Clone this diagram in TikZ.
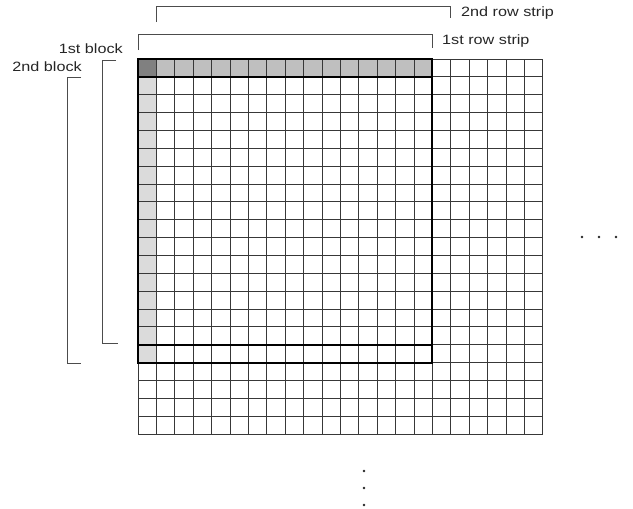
\documentclass[tikz,border=0pt]{standalone}
\usepackage{fontspec}
\setmainfont{Liberation Sans}[FakeStretch=1.2]
\usetikzlibrary{positioning}

\begin{document}
\begin{tikzpicture}[
  x=1pt, y=-1pt,
  font=\fontsize{13.5}{15}\selectfont,
  cell/.style={draw=black!78, line width=0.85pt},
  blockline/.style={draw=black, line width=2pt},
  bracket/.style={draw=black!70, line width=0.8pt},
  lbl/.style={inner sep=0pt, text=black!85},
  dot/.style={fill=black!85},
]
  \useasboundingbox (0,0) rectangle (633,509);

  % Matrix of cells, in cell units
  \begin{scope}[shift={(138pt,-59pt)}, x=18.4pt, y=-17.86pt]
    \fill[black!50] (0,0) rectangle (1,1);
    \fill[black!25] (1,0) rectangle (16,1);
    \fill[black!14] (0,1) rectangle (1,17);
    \foreach \i in {0,...,22} \draw[cell] (\i,0) -- (\i,21);
    \foreach \j in {0,...,21} \draw[cell] (0,\j) -- (22,\j);
    % 1st and 2nd block outlines
    \draw[blockline] (0,0) rectangle (16,16);
    \draw[blockline] (0,1) rectangle (16,17);
  \end{scope}

  % Row strip brackets
  \coordinate (strip1l) at (138,34);
  \coordinate (strip1r) at (432,34);
  \draw[bracket] (138,50) -- (strip1l) -- (strip1r) -- (432,48);
  \node[lbl, anchor=west] (strip1) at (442,41) {1st row strip};

  \coordinate (strip2l) at (156.4,6);
  \coordinate (strip2r) at (450.4,6);
  \draw[bracket] (156.4,22) -- (strip2l) -- (strip2r) -- (450.4,18);
  \node[lbl, anchor=west] (strip2) at (461,13) {2nd row strip};

  % Block brackets on the left
  \coordinate (block1t) at (102,60);
  \coordinate (block1b) at (102,343);
  \draw[bracket] (116,60) -- (block1t) -- (block1b) -- (118,343);
  \node[lbl, anchor=east] (block1) at (123,49) {1st block};

  \coordinate (block2t) at (67,77);
  \coordinate (block2b) at (67,363);
  \draw[bracket] (81,77) -- (block2t) -- (block2b) -- (81,363);
  \node[lbl, anchor=east] (block2) at (82,67) {2nd block};

  % Continuation dots
  \foreach \x in {582,599,616} \fill[dot] (\x,237) circle (1.3pt);
  \foreach \y in {471,488,505} \fill[dot] (364,\y) circle (1.3pt);
\end{tikzpicture}
\end{document}
